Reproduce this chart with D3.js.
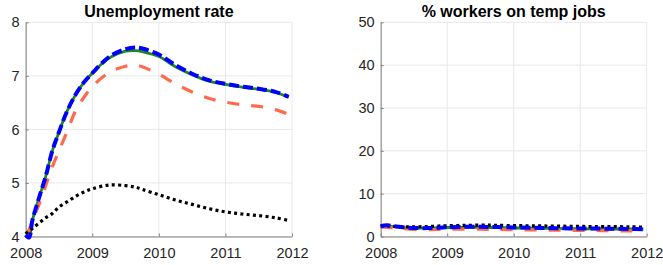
<!DOCTYPE html>
<html>
<head>
<meta charset="utf-8">
<script src="https://cdn.jsdelivr.net/npm/d3@7"></script>
<style>
  html, body { margin: 0; padding: 0; background: #fff; }
  svg { display: block; font-family: "Liberation Sans", Arial, Helvetica, sans-serif; }
</style>
</head>
<body>
<svg id="chart" width="663" height="265"></svg>
<script>
// ---- data ----
const years = [2008, 2008.05, 2008.1, 2008.2, 2008.3, 2008.4, 2008.5, 2008.625, 2008.75, 2008.875,
  2009, 2009.25, 2009.5, 2009.65, 2009.75, 2010, 2010.25, 2010.5, 2010.75, 2011, 2011.25, 2011.5, 2011.75, 2011.95];

const unempGreen  = [4.0, 4.0, 4.3, 4.72, 5.12, 5.6, 5.95, 6.35, 6.65, 6.88, 7.05, 7.33, 7.46, 7.47, 7.45, 7.36, 7.17, 7.02, 6.9, 6.84, 6.79, 6.75, 6.69, 6.6];
const unempOrange = [4.05, 4.12, 4.3, 4.6, 4.95, 5.3, 5.6, 5.97, 6.35, 6.6, 6.8, 7.06, 7.18, 7.2, 7.17, 7.03, 6.85, 6.7, 6.58, 6.51, 6.46, 6.43, 6.37, 6.28];
const unempBlack  = [4.05, 4.1, 4.15, 4.25, 4.35, 4.43, 4.55, 4.65, 4.75, 4.83, 4.89, 4.96, 4.95, 4.92, 4.88, 4.78, 4.68, 4.6, 4.52, 4.46, 4.42, 4.39, 4.35, 4.3];
const unempBlue   = [4.03, 3.98, 4.3, 4.72, 5.12, 5.6, 5.95, 6.35, 6.65, 6.88, 7.05, 7.35, 7.5, 7.53, 7.51, 7.4, 7.2, 7.04, 6.92, 6.85, 6.8, 6.76, 6.7, 6.61];

const tempGreen  = [2.3, 2.4, 2.45, 2.3, 2.15, 2.0, 1.95, 1.95, 2.0, 2.05, 2.1, 2.15, 2.15, 2.1, 2.1, 2.0, 1.95, 1.9, 1.85, 1.8, 1.8, 1.75, 1.75, 1.7];
const tempOrange = [2.2, 2.2, 2.15, 2.0, 1.85, 1.75, 1.65, 1.6, 1.6, 1.65, 1.7, 1.7, 1.7, 1.65, 1.65, 1.6, 1.55, 1.5, 1.45, 1.4, 1.4, 1.35, 1.3, 1.3];
const tempBlack  = [2.4, 2.45, 2.45, 2.35, 2.3, 2.25, 2.25, 2.3, 2.35, 2.45, 2.5, 2.6, 2.65, 2.65, 2.6, 2.55, 2.5, 2.45, 2.4, 2.35, 2.3, 2.3, 2.25, 2.2];
const tempBlue   = [2.4, 2.55, 2.6, 2.4, 2.2, 2.05, 2.0, 1.95, 2.0, 2.05, 2.15, 2.25, 2.25, 2.2, 2.2, 2.1, 2.05, 2.0, 1.9, 1.85, 1.85, 1.8, 1.75, 1.7];

const xTicks = [2008, 2009, 2010, 2011, 2012];
const unempTicks = [4, 5, 6, 7, 8];
const tempTicks = [0, 10, 20, 30, 40, 50];

const panels = [
  { title: "Unemployment rate", left: 25.7, right: 292, yDomain: [4, 8], yTicks: unempTicks,
    series: [unempGreen, unempOrange, unempBlack, unempBlue] },
  { title: "% workers on temp jobs", left: 380.7, right: 646.7, yDomain: [0, 50], yTicks: tempTicks,
    series: [tempGreen, tempOrange, tempBlack, tempBlue] }
];

const styles = [
  { color: "#1b8a1b", width: 2.8, dash: null },
  { color: "#ff6a4d", width: 3.2, dash: "12,12" },
  { color: "#000000", width: 3.2, dash: "3,3.3" },
  { color: "#0000ff", width: 4, dash: "10,4" }
];

const plotTop = 22.3, plotBottom = 236.5;
const svg = d3.select("#chart");

panels.forEach(p => {
  const x = d3.scaleLinear().domain([2008, 2012]).range([p.left, p.right]);
  const y = d3.scaleLinear().domain(p.yDomain).range([plotBottom, plotTop]);
  const g = svg.append("g");

  // grid
  g.append("g").selectAll("line").data(xTicks).join("line")
    .attr("x1", d => x(d)).attr("x2", d => x(d)).attr("y1", plotTop).attr("y2", plotBottom)
    .attr("stroke", "#e8e8e8").attr("stroke-width", 1);
  g.append("g").selectAll("line").data(p.yTicks).join("line")
    .attr("x1", p.left).attr("x2", p.right).attr("y1", d => y(d)).attr("y2", d => y(d))
    .attr("stroke", "#e8e8e8").attr("stroke-width", 1);

  // axes
  const xAxis = d3.axisBottom(x).tickValues(xTicks).tickFormat(d3.format("d")).tickSizeInner(-3).tickSizeOuter(0).tickPadding(11);
  const gx = g.append("g").attr("transform", `translate(0,${plotBottom})`).call(xAxis);
  const yAxis = d3.axisLeft(y).tickValues(p.yTicks).tickFormat(d3.format("d")).tickSizeInner(-3).tickSizeOuter(0).tickPadding(6);
  const gy = g.append("g").attr("transform", `translate(${p.left},0)`).call(yAxis);
  [gx, gy].forEach(a => {
    a.select(".domain").attr("stroke", "#808080");
    a.selectAll(".tick line").attr("stroke", "#808080");
    a.selectAll(".tick text").attr("fill", "#262626").style("font-size", "14.5px")
      .style("font-family", "'Liberation Sans', Arial, sans-serif");
  });

  // lines
  const clipId = "clip" + Math.round(p.left);
  svg.append("clipPath").attr("id", clipId).append("rect")
    .attr("x", p.left - 4).attr("y", plotTop - 4).attr("width", p.right - p.left + 8).attr("height", plotBottom - plotTop + 8);
  const line = d3.line().x((d, i) => x(years[i])).y(d => y(d)).curve(d3.curveCatmullRom.alpha(0.5));
  p.series.forEach((s, k) => {
    const st = styles[k];
    g.append("path").datum(s).attr("d", line)
      .attr("fill", "none").attr("stroke", st.color).attr("stroke-width", st.width)
      .attr("stroke-dasharray", st.dash).attr("stroke-linejoin", "round")
      .attr("clip-path", `url(#${clipId})`);
  });

  // title
  g.append("text").attr("x", (p.left + p.right) / 2).attr("y", 17).attr("text-anchor", "middle")
    .style("font-size", "16px").style("font-weight", "bold").attr("fill", "#000").text(p.title);
});
</script>
</body>
</html>
